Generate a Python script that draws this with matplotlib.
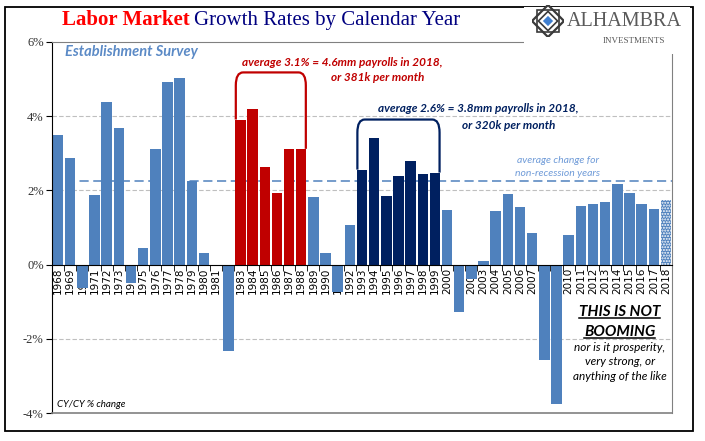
import numpy as np
import matplotlib
matplotlib.use("Agg")
import matplotlib.pyplot as plt
from matplotlib.path import Path
from matplotlib.patches import PathPatch, Rectangle, Polygon
from matplotlib.lines import Line2D

years = list(range(1968, 2019))
growth = [3.50, 2.88, -0.62, 1.87, 4.39, 3.67, -0.49, 0.46, 3.12, 4.93,
          5.04, 2.26, 0.30, -0.05, -2.34, 3.91, 4.20, 2.62, 1.94, 3.12,
          3.12, 1.81, 0.30, -0.73, 1.08, 2.56, 3.42, 1.86, 2.40, 2.80,
          2.45, 2.48, 1.48, -1.29, -0.38, 0.09, 1.45, 1.91, 1.56, 0.84,
          -2.58, -3.77, 0.81, 1.59, 1.62, 1.70, 2.18, 1.94, 1.64, 1.51,
          1.75]
avg_non_recession = 2.26
red_years = [1983, 1988]
navy_years = [1993, 1999]
yticks = [-4, -2, 0, 2, 4, 6]

BLUE = "#4F81BD"
RED = "#C00000"
NAVY = "#002060"
SANS = "Lato"
SERIF = "Liberation Serif"

fig = plt.figure(figsize=(7.05, 4.41), dpi=100)
W, H = 705, 441

def fx(px):
    return px / W

def fy(py):
    return 1 - py / H

# outer frame
fig.patches.append(Rectangle((fx(4.5), fy(430.5)), fx(692.5) - fx(4.5), fy(6.5) - fy(430.5),
                             transform=fig.transFigure, fill=False, edgecolor="black",
                             linewidth=1.3, zorder=0))

ax = fig.add_axes([fx(52), fy(413), fx(672) - fx(52), fy(42) - fy(413)])
x = np.arange(len(years))

colors = []
for y in years:
    if red_years[0] <= y <= red_years[1]:
        colors.append(RED)
    elif navy_years[0] <= y <= navy_years[1]:
        colors.append(NAVY)
    else:
        colors.append(BLUE)

bars = ax.bar(x, growth, width=0.86, color=colors, zorder=2)
bars[-1].set_hatch("......")
bars[-1].set_edgecolor("white")
bars[-1].set_linewidth(0)

ax.set_xlim(-0.5, len(years) - 0.5)
ax.set_ylim(-4, 6)
ax.set_yticks(yticks)
ax.set_yticklabels([f"{t}%" for t in yticks])
ax.set_xticks(x)
ax.set_xticklabels([str(y) for y in years])
ax.set_xticks(x[:-1] + 0.5, minor=True)
ax.tick_params(axis="x", which="major", length=0, pad=2, labelrotation=90, labelsize=7.5)
ax.tick_params(axis="x", which="minor", length=4, direction="out", color="black")
ax.tick_params(axis="y", length=4, direction="out", pad=2, labelsize=9, labelcolor="#333333")
for lab in ax.get_xticklabels():
    lab.set_fontfamily(SERIF)
    lab.set_fontsize(7.5)
    lab.set_va("top")
    lab.set_ha("center")
for lab in ax.get_yticklabels():
    lab.set_fontfamily(SERIF)

ax.spines["bottom"].set_position(("data", 0))
ax.spines["bottom"].set_color("black")
ax.spines["left"].set_color("black")
for s in ["top", "right"]:
    ax.spines[s].set_color("#808080")
ax.axhline(-4, color="#808080", linewidth=1.2, clip_on=False, zorder=3)

for g in [4, 2, -2]:
    ax.axhline(g, color="#BFBFBF", linewidth=0.8, linestyle=(0, (4, 2)), zorder=1)
ax.axhline(avg_non_recession, color=BLUE, linewidth=1.1, linestyle=(0, (6, 3)), zorder=1)


def bracket(i0, i1, top, color):
    x0, x1 = i0 - 0.38, i1 + 0.38
    y0, y1 = growth[i0], growth[i1]
    rx, ry = 0.6, 0.35
    verts = [(x0, y0), (x0, top - ry), (x0, top), (x0 + rx, top),
             (x1 - rx, top), (x1, top), (x1, top - ry), (x1, y1)]
    codes = [Path.MOVETO, Path.LINETO, Path.CURVE3, Path.CURVE3,
             Path.LINETO, Path.CURVE3, Path.CURVE3, Path.LINETO]
    ax.add_patch(PathPatch(Path(verts, codes), fill=False, edgecolor=color,
                           linewidth=1.6, zorder=4, capstyle="butt"))


bracket(years.index(red_years[0]), years.index(red_years[1]), 5.18, RED)
bracket(years.index(navy_years[0]), years.index(navy_years[1]), 3.91, NAVY)

note = dict(fontfamily=SANS, fontstyle="italic", fontweight="bold", fontsize=8.5,
            ha="center", va="center", zorder=5)
ax.text(23.4, 5.44, "average 3.1% = 4.6mm payrolls in 2018,", color=RED, **note)
ax.text(26.3, 5.04, "or 381k per month", color=RED, **note)
ax.text(34.6, 4.20, "average 2.6% = 3.8mm payrolls in 2018,", color=NAVY, **note)
ax.text(37.1, 3.75, "or 320k per month", color=NAVY, **note)

ax.text(41.1, 2.80, "average change for", color="#6F9BD8", fontfamily=SANS,
        fontstyle="italic", fontsize=7.5, ha="center", va="center")
ax.text(41.1, 2.45, "non-recession years", color="#6F9BD8", fontfamily=SANS,
        fontstyle="italic", fontsize=7.5, ha="center", va="center")

ax.text(0.021, 0.973, "Establishment Survey", transform=ax.transAxes, color="#5B8AC6",
        fontfamily=SANS, fontstyle="italic", fontweight="bold", fontsize=10.5,
        ha="left", va="center")
ax.text(0.008, 0.024, "CY/CY % change", transform=ax.transAxes, color="black",
        fontfamily=SANS, fontstyle="italic", fontsize=7, ha="left", va="center")

boom = []
for yv, s in [(-1.29, "THIS IS NOT"), (-1.81, "BOOMING")]:
    boom.append(ax.text(46.2, yv, s, color="black", fontfamily=SANS, fontstyle="italic",
                        fontweight="bold", fontsize=11, ha="center", va="center"))
for yv, s in [(-2.24, "nor is it prosperity,"), (-2.61, "very strong, or"),
              (-3.02, "anything of the like")]:
    ax.text(46.2, yv, s, color="black", fontfamily=SANS, fontstyle="italic",
            fontsize=8.5, ha="center", va="center")

# title, two colours
t1 = fig.text(fx(62), fy(20), "Labor Market", color="#FF0000", fontfamily=SERIF,
              fontweight="bold", fontsize=15, ha="left", va="center")
fig.canvas.draw()
r = fig.canvas.get_renderer()
bb = t1.get_window_extent(r)
fig.text(bb.x1 / W + 0.006, fy(20), "Growth Rates by Calendar Year", color="#000080",
         fontfamily=SERIF, fontsize=15, ha="left", va="center")

# underline the BOOMING lines
for t in boom:
    b = t.get_window_extent(r)
    fig.lines.append(Line2D([b.x0 / W, b.x1 / W], [(b.y0 + 1) / H] * 2,
                            transform=fig.transFigure, color="black", linewidth=1.1))

# logo area
fig.patches.append(Rectangle((fx(524), fy(54)), fx(690) - fx(524), fy(7) - fy(54),
                             transform=fig.transFigure, facecolor="white",
                             edgecolor="none", zorder=3))
lg = fig.add_axes([fx(532), fy(37), fx(32), fy(5) - fy(37)], zorder=4)
lg.set_xlim(-1, 1)
lg.set_ylim(-1, 1)
lg.axis("off")
lg.add_patch(Polygon([(0, 1), (1, 0), (0, -1), (-1, 0)], closed=True,
                     facecolor="white", edgecolor="#3A3A3A", linewidth=1.6))
lg.add_patch(Polygon([(-0.7, -0.7), (0.7, -0.7), (0.7, 0.7), (-0.7, 0.7)], closed=True,
                     fill=False, edgecolor="#3A3A3A", linewidth=1.2))
lg.add_patch(Polygon([(0, 0.6), (0.6, 0), (0, -0.6), (-0.6, 0)], closed=True,
                     facecolor="white", edgecolor="#3A3A3A", linewidth=1.2))
lg.add_patch(Polygon([(0, 0.32), (0.32, 0), (0, -0.32), (-0.32, 0)], closed=True,
                     facecolor="#3F7FD0", edgecolor="none"))
fig.text(fx(567), fy(22), "ALHAMBRA", color="#5A5A5A", fontfamily=SERIF, fontsize=14.5,
         ha="left", va="center", zorder=5)
fig.text(fx(634), fy(41), "INVESTMENTS", color="#5A5A5A", fontfamily=SERIF, fontsize=6.5,
         ha="center", va="center", zorder=5)

fig.savefig("out.png", dpi=100)
